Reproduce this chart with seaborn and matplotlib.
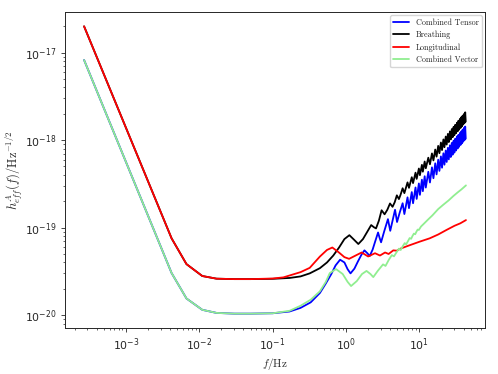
import numpy as np
import pandas as pd
import matplotlib
matplotlib.use("Agg")
import matplotlib.pyplot as plt
from matplotlib.ticker import NullFormatter
import seaborn as sns

# low / mid frequency part of each curve
black_f = [2.7e-4, 4.2e-3, 6.7e-3, 1.1e-2, 1.72e-2, 3e-2, 5e-2, 0.1, 0.17, 0.24, 0.32, 0.44,
           0.55, 0.67, 0.8, 0.95, 1.11, 1.28, 1.47, 1.7, 1.95, 2.2, 2.4, 2.56, 2.8, 3.05, 3.35,
           3.65, 3.97, 4.3, 4.6, 4.92, 5.25, 5.55]
black_v = [2.0e-17, 7.55e-20, 3.83e-20, 2.80e-20, 2.61e-20, 2.58e-20, 2.58e-20, 2.6e-20, 2.66e-20,
           2.77e-20, 3.0e-20, 3.44e-20, 4.0e-20, 4.8e-20, 5.9e-20, 7.4e-20, 8.2e-20, 7.3e-20,
           6.5e-20, 7.4e-20, 9.0e-20, 1.07e-19, 1.01e-19, 9.8e-20, 1.2e-19, 1.58e-19, 1.42e-19,
           1.6e-19, 1.89e-19, 1.73e-19, 1.95e-19, 2.34e-19, 2.12e-19, 2.4e-19]

blue_f = [2.7e-4, 4.2e-3, 6.7e-3, 1.1e-2, 1.72e-2, 3e-2, 5e-2, 0.1, 0.17, 0.24, 0.33, 0.44, 0.53,
          0.63, 0.72, 0.83, 0.95, 1.05, 1.15, 1.3, 1.45, 1.62, 1.78, 1.95, 2.1, 2.3, 2.5, 2.73,
          2.87, 3.0, 3.3, 3.72, 4.0, 4.3, 4.65, 4.95, 5.4]
blue_v = [8.24e-18, 3.03e-20, 1.55e-20, 1.15e-20, 1.06e-20, 1.04e-20, 1.04e-20, 1.05e-20, 1.1e-20,
          1.21e-20, 1.4e-20, 1.79e-20, 2.3e-20, 2.95e-20, 3.7e-20, 4.3e-20, 4.0e-20, 3.35e-20,
          3.0e-20, 3.4e-20, 4.1e-20, 4.9e-20, 5.5e-20, 5.1e-20, 4.74e-20, 5.6e-20, 7.0e-20,
          8.8e-20, 7.6e-20, 6.8e-20, 9.0e-20, 1.25e-19, 9.2e-20, 1.2e-19, 1.6e-19, 1.16e-19,
          1.5e-19]

red_f = [2.7e-4, 4.2e-3, 6.7e-3, 1.1e-2, 1.72e-2, 3e-2, 5e-2, 0.1, 0.14, 0.24, 0.32, 0.44, 0.55,
         0.65, 0.8, 0.95, 1.1, 1.35, 1.63, 2.0, 2.48, 2.9, 3.4, 3.8, 4.4, 4.9, 5.5, 7, 10, 13.8,
         18, 23.3, 30, 36, 43]
red_v = [2.0e-17, 7.55e-20, 3.83e-20, 2.80e-20, 2.61e-20, 2.58e-20, 2.58e-20, 2.62e-20, 2.7e-20,
         3.1e-20, 3.47e-20, 4.67e-20, 5.56e-20, 5.93e-20, 5.2e-20, 4.6e-20, 4.4e-20, 4.8e-20,
         5.2e-20, 4.68e-20, 5.1e-20, 4.8e-20, 5.2e-20, 5.0e-20, 5.5e-20, 5.45e-20, 5.75e-20,
         6.2e-20, 6.9e-20, 7.55e-20, 8.35e-20, 9.4e-20, 1.05e-19, 1.12e-19, 1.22e-19]

green_f = [2.7e-4, 4.2e-3, 6.7e-3, 1.1e-2, 1.72e-2, 3e-2, 5e-2, 0.1, 0.17, 0.24, 0.33, 0.44, 0.53,
           0.6, 0.73, 0.9, 1.05, 1.17, 1.4, 1.65, 1.9, 2.15, 2.35, 2.7, 3.19, 3.45, 3.8, 4.2, 4.5,
           4.85, 5.25, 5.55, 5.9, 6.3, 6.6, 7.0, 7.35, 7.7, 8.05, 8.4, 8.75, 9.1, 9.45, 9.8, 10.5,
           11.5, 13, 15, 18, 21, 25, 29, 33, 37, 40, 43]
green_v = [8.24e-18, 3.03e-20, 1.55e-20, 1.15e-20, 1.06e-20, 1.04e-20, 1.04e-20, 1.05e-20, 1.12e-20,
           1.28e-20, 1.5e-20, 1.87e-20, 2.4e-20, 3.02e-20, 3.36e-20, 2.95e-20, 2.4e-20, 2.15e-20,
           2.45e-20, 2.95e-20, 3.2e-20, 2.95e-20, 2.72e-20, 3.2e-20, 3.8e-20, 3.65e-20, 4.25e-20,
           4.85e-20, 4.7e-20, 5.2e-20, 5.75e-20, 5.55e-20, 6.1e-20, 6.65e-20, 6.45e-20, 7.05e-20,
           7.6e-20, 7.45e-20, 8.05e-20, 8.55e-20, 8.4e-20, 9.0e-20, 9.5e-20, 9.4e-20, 1.03e-19,
           1.11e-19, 1.23e-19, 1.38e-19, 1.63e-19, 1.82e-19, 2.05e-19, 2.3e-19, 2.52e-19, 2.72e-19,
           2.88e-19, 3.04e-19]

# high frequency wiggles of the tensor / breathing curves: peaks and troughs (Hz)
hf_peak_f = [5.9, 6.88, 7.86, 8.84, 9.82, 10.8, 11.78, 13.2, 14.8, 16.4, 18.0, 19.6, 21.2, 22.8,
             24.4, 26.0, 27.6, 29.2, 30.8, 32.4, 34.0, 35.6, 37.2, 38.8, 40.4, 42.0]
hf_trough_f = [6.23, 7.2, 8.18, 9.16, 10.14, 11.12, 12.2, 13.9, 15.5, 17.1, 18.7, 20.3, 21.9,
               23.5, 25.1, 26.7, 28.3, 29.9, 31.5, 33.1, 34.7, 36.3, 37.9, 39.5, 41.1, 42.7]
# values in units of 1e-19
black_peak = [2.82, 3.29, 3.77, 4.25, 4.74, 5.22, 5.70, 6.3, 7.05, 7.81, 8.60, 9.40, 10.19, 11.0,
              11.8, 12.6, 13.4, 14.2, 15.0, 15.8, 16.7, 17.5, 18.3, 19.1, 19.9, 20.8]
black_trough = [2.48, 2.85, 3.23, 3.61, 3.98, 4.36, 4.77, 5.3, 5.87, 6.48, 7.09, 7.7, 8.3, 8.9,
                9.5, 10.2, 10.8, 11.4, 12.0, 12.6, 13.2, 13.8, 14.4, 15.1, 15.7, 16.3]
blue_peak = [1.90, 2.22, 2.55, 2.88, 3.20, 3.53, 3.87, 4.35, 4.89, 5.44, 5.98, 6.52, 7.08, 7.62,
             8.18, 8.74, 9.29, 9.85, 10.4, 11.0, 11.5, 12.1, 12.6, 13.2, 13.8, 14.3]
blue_trough = [1.43, 1.67, 1.90, 2.13, 2.37, 2.61, 2.87, 3.28, 3.67, 4.06, 4.45, 4.84, 5.24, 5.63,
               6.03, 6.42, 6.82, 7.21, 7.62, 8.02, 8.41, 8.82, 9.21, 9.61, 10.0, 10.4]

labels = ["Combined Tensor", "Breathing", "Longitudinal", "Combined Vector"]
colors = ["blue", "black", "red", "lightgreen"]


def zigzag(f_low, v_low, peaks, troughs):
    f_hi = np.column_stack([hf_peak_f, hf_trough_f]).ravel()
    v_hi = np.column_stack([peaks, troughs]).ravel() * 1e-19
    return np.concatenate([f_low, f_hi]), np.concatenate([v_low, v_hi])


bf, bv = zigzag(blue_f, blue_v, blue_peak, blue_trough)
kf, kv = zigzag(black_f, black_v, black_peak, black_trough)

frames = []
for lab, f, v in zip(labels, [bf, kf, red_f, green_f], [bv, kv, red_v, green_v]):
    frames.append(pd.DataFrame({"f": f, "h": v, "mode": lab}))
df = pd.concat(frames, ignore_index=True)

sns.set_style("ticks")
plt.rcParams["mathtext.fontset"] = "cm"
plt.rcParams["axes.formatter.use_mathtext"] = True

fig, ax = plt.subplots(figsize=(4.98, 3.74), dpi=100)
fig.subplots_adjust(left=0.1305, right=0.974, top=0.968, bottom=0.123)

sns.lineplot(data=df, x="f", y="h", hue="mode", hue_order=labels,
             palette=dict(zip(labels, colors)), sort=False, estimator=None,
             linewidth=1.3, ax=ax)
ax.set_xscale("log")
ax.set_yscale("log")
ax.xaxis.set_minor_formatter(NullFormatter())
ax.yaxis.set_minor_formatter(NullFormatter())

ax.set_xlabel(r"$f/\mathrm{Hz}$", fontsize=8, labelpad=2)
ax.set_ylabel(r"$h^A_{eff}(f)/\mathrm{Hz}^{-1/2}$", fontsize=9, labelpad=0)
ax.tick_params(which="major", labelsize=7.8, length=2.7, width=0.6, colors="0.15")
ax.tick_params(which="minor", length=1.6, width=0.5, colors="0.15")
for s in ax.spines.values():
    s.set_linewidth(0.7)
    s.set_color("0.15")

handles, labs = ax.get_legend_handles_labels()
ax.legend(handles, labs, loc="upper right", prop={"family": "cmr10", "size": 5.8},
          handlelength=2.0, borderaxespad=0.4, framealpha=0.8)

fig.savefig("out.png", dpi=100)
